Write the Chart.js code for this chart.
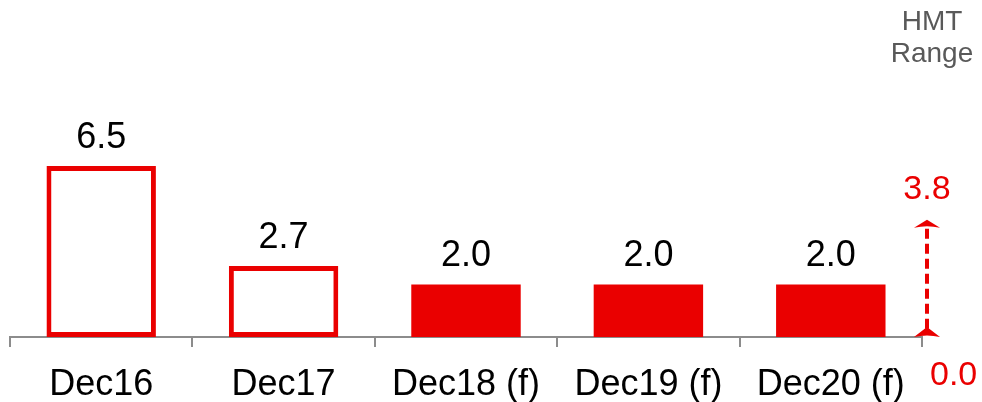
<!DOCTYPE html>
<html>
<head>
<meta charset="utf-8">
<script src="https://cdn.jsdelivr.net/npm/chart.js@4/dist/chart.umd.min.js"></script>
<style>
  html, body { margin: 0; padding: 0; background: #fff; }
  #wrap { width: 982px; height: 402px; position: relative; }
</style>
</head>
<body>
<div id="wrap"><canvas id="myChart"></canvas></div>
<script>
const categories = ["Dec16", "Dec17", "Dec18 (f)", "Dec19 (f)", "Dec20 (f)"];
const values = [6.5, 2.7, 2.0, 2.0, 2.0];
const forecast = [false, false, true, true, true];
const hmtRange = [0.0, 3.8];
const hmtLabel = ["HMT", "Range"];

const RED = "#EA0000";
const GREY = "#8c8c8c";

// value labels above bars + HMT range marker at the right
const overlay = {
    id: "overlay",
    afterDatasetsDraw(chart) {
        const ctx = chart.ctx;
        const meta = chart.getDatasetMeta(0);
        ctx.save();
        ctx.font = "36px 'Liberation Sans', Arial, sans-serif";
        ctx.fillStyle = "#000";
        ctx.textAlign = "center";
        ctx.textBaseline = "alphabetic";
        meta.data.forEach((bar, i) => {
            ctx.fillText(values[i].toFixed(1), bar.x, bar.y - 18);
        });

        const rs = chart.scales.yRange;
        const x = chart.chartArea.right + 5;
        const yTop = rs.getPixelForValue(hmtRange[1]);
        const yBot = rs.getPixelForValue(hmtRange[0]);

        ctx.strokeStyle = RED;
        ctx.lineWidth = 4;
        ctx.setLineDash([10, 5]);
        ctx.beginPath();
        ctx.moveTo(x, yTop + 4);
        ctx.lineTo(x, yBot - 4);
        ctx.stroke();
        ctx.setLineDash([]);

        ctx.fillStyle = RED;
        // top arrow head
        ctx.beginPath();
        ctx.moveTo(x, yTop - 5);
        ctx.lineTo(x + 13, yTop + 3);
        ctx.quadraticCurveTo(x, yTop, x - 13, yTop + 3);
        ctx.closePath();
        ctx.fill();
        // bottom arrow head
        ctx.beginPath();
        ctx.moveTo(x, yBot - 10);
        ctx.lineTo(x + 13, yBot);
        ctx.quadraticCurveTo(x, yBot - 3, x - 13, yBot);
        ctx.closePath();
        ctx.fill();

        ctx.font = "34px 'Liberation Sans', Arial, sans-serif";
        ctx.textAlign = "center";
        ctx.fillText(hmtRange[1].toFixed(1), x, yTop - 26);
        ctx.textAlign = "left";
        ctx.fillText(hmtRange[0].toFixed(1), x + 3, yBot + 48);

        ctx.fillStyle = "#595959";
        ctx.font = "28px 'Liberation Sans', Arial, sans-serif";
        ctx.textAlign = "center";
        ctx.fillText(hmtLabel[0], x + 5, 30);
        ctx.fillText(hmtLabel[1], x + 5, 62);
        ctx.restore();
    }
};

const ctx = document.getElementById("myChart").getContext("2d");
new Chart(ctx, {
    type: "bar",
    data: {
        labels: categories,
        datasets: [{
            data: values,
            backgroundColor: forecast.map(f => f ? RED : "#fff"),
            borderColor: RED,
            borderWidth: forecast.map(f => f ? 0 : 5),
            borderSkipped: false,
            barPercentage: 0.6,
            categoryPercentage: 1.0
        }]
    },
    options: {
        responsive: true,
        maintainAspectRatio: false,
        animation: false,
        layout: { padding: { left: 10, right: 60, top: 74, bottom: 0 } },
        plugins: { legend: { display: false }, tooltip: { enabled: false } },
        scales: {
            x: {
                afterFit: (scale) => { scale.height = 65; },
                grid: { drawOnChartArea: false, drawTicks: true, tickLength: 10, color: GREY, lineWidth: 2 },
                border: { display: true, color: GREY, width: 2 },
                ticks: { color: "#000", padding: 16, font: { family: "'Liberation Sans', Arial, sans-serif", size: 36 } }
            },
            y: { display: false, min: 0, max: 10 },
            yRange: { display: false, min: 0, max: 8.9 }
        }
    },
    plugins: [overlay]
});
</script>
</body>
</html>
